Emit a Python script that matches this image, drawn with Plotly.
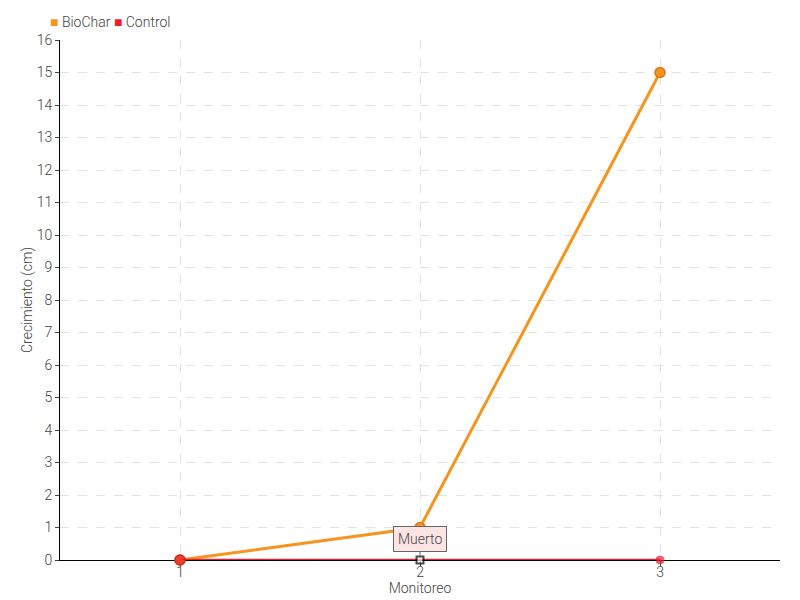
import plotly.graph_objects as go

monitoreo = [1, 2, 3]
biochar = [0, 1, 15]
control = [0, 0, 0]
y_ticks = list(range(0, 17))
series_names = ["BioChar", "Control"]

FONT = "Roboto"
ORANGE = "#f7941d"
RED = "#ee1c2e"

fig = go.Figure()

fig.add_trace(go.Scatter(
    x=monitoreo, y=biochar, name=series_names[0], mode="lines+markers",
    line=dict(color=ORANGE, width=3), cliponaxis=False,
    marker=dict(size=10, color=ORANGE, line=dict(color="#d9761a", width=1.5)),
))
fig.add_trace(go.Scatter(
    x=monitoreo, y=control, name=series_names[1], mode="lines+markers",
    line=dict(color=RED, width=2.4), cliponaxis=False,
    marker=dict(size=[10, 7, 8], color=[RED, "white", RED],
                symbol=["circle", "square", "circle"],
                line=dict(color=["#c01020", "black", RED], width=[1.5, 2, 1])),
))

# compact legend with small squares
legend_text = " ".join(
    f'<span style="color:{c}">■</span> {n}' for n, c in zip(series_names, [ORANGE, RED])
)
fig.add_annotation(
    xref="paper", yref="paper", x=-0.017, y=1.0, yshift=18,
    xanchor="left", yanchor="middle", showarrow=False,
    text=legend_text, font=dict(family=FONT, size=14, color="#444", weight=300),
)

fig.add_annotation(
    x=monitoreo[1], y=control[1], text="Muerto",
    showarrow=True, arrowhead=0, arrowcolor="#666", arrowwidth=1,
    ax=0, ay=-21, standoff=4,
    bgcolor="#fde4e4", bordercolor="#666", borderwidth=1, borderpad=4,
    font=dict(family=FONT, size=14, color="#444", weight=300),
)

fig.update_layout(
    width=792, height=592,
    margin=dict(l=52, r=20, t=32, b=40, autoexpand=False),
    plot_bgcolor="white", paper_bgcolor="white",
    font=dict(family=FONT, size=13, color="#444", weight=300),
    showlegend=False,
    xaxis=dict(
        title=dict(text="Monitoreo", standoff=0, font=dict(size=14)),
        range=[0.5, 3.5], tickvals=monitoreo, ticktext=[str(v) for v in monitoreo],
        showline=True, linecolor="black", linewidth=1,
        ticks="outside", ticklen=5, tickcolor="#444", ticklabelstandoff=-6,
        showgrid=True, gridcolor="#e2e2e2", griddash="dash",
        zeroline=False, layer="below traces", tickfont=dict(size=14),
    ),
    yaxis=dict(
        title=dict(text="Crecimiento (cm)", standoff=0, font=dict(size=14)),
        range=[0, 16], tickvals=y_ticks,
        showline=True, linecolor="black", linewidth=1,
        ticks="outside", ticklen=4, tickcolor="#444",
        showgrid=True, gridcolor="#e2e2e2", griddash="dash",
        zeroline=False, tickfont=dict(size=14), layer="below traces",
    ),
)

fig.write_html("out.html")
